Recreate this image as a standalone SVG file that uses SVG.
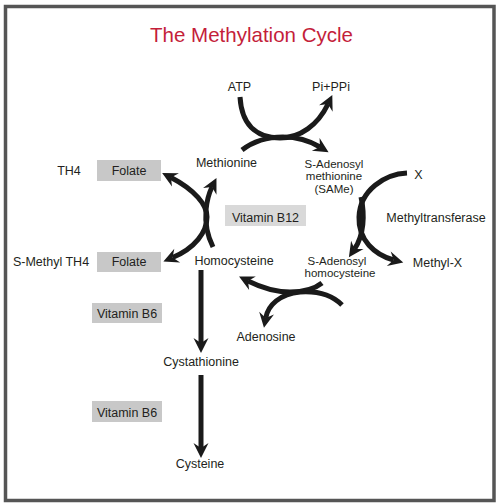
<svg xmlns="http://www.w3.org/2000/svg" width="500" height="503" viewBox="0 0 500 503">
<style>
.t{font-family:"Liberation Sans",Arial,sans-serif;font-size:12.5px;fill:#231f20;text-anchor:middle}
.m{font-size:11.5px}
.title{font-family:"Liberation Sans",Arial,sans-serif;font-size:21px;fill:#c41e3a;text-anchor:middle}
.box{fill:#c8c8c8}
.box2{fill:#d9d9d9}
.c{fill:none;stroke:#1a1a1a;stroke-width:5;marker-end:url(#ah)}
.both{marker-start:url(#ah)}
</style>
<defs>
<marker id="ah" viewBox="-16 -8 17 16" refX="-10" refY="0" markerWidth="17" markerHeight="16" markerUnits="userSpaceOnUse" orient="auto-start-reverse">
<path d="M0,0 L-15,-7.5 L-10,0 L-15,7.5 Z" fill="#1a1a1a"/>
</marker>
</defs>
<rect x="0" y="0" width="500" height="503" fill="#fff"/>
<rect x="5.5" y="6.5" width="488.5" height="494" fill="none" stroke="#555" stroke-width="3.5"/>
<text class="title" x="251.5" y="42" textLength="203" lengthAdjust="spacingAndGlyphs">The Methylation Cycle</text>

<g id="connectors">
<path class="c" d="M240,97 C242,130 262,138 280,138 C300,138 318,125 328,104"/>
<path class="c" d="M242,150 C255,140 270,137 283,137 C300,137 310,141 320,147"/>
<path class="c both" d="M171,177.5 C195,190 207,205 207,217 C207,232 195,248 172.6,257.5"/>
<path class="c" d="M213,247 C207,235 205,222 206,210 C207,200 209,193 212,187"/>
<path class="c" d="M407,173 C385,174 360,190 359,217 C358,240 375,255 393.6,260"/>
<path class="c" d="M361,197 C365,215 364,235 354.5,249"/>
<path class="c" d="M322,283 C312,291 300,292 290,292 C275,292 260,287 248,281"/>
<path class="c" d="M342,305 C330,293 315,291 300,292 C280,294 268,305 265.7,318"/>
<path class="c" d="M201,270 L201,343"/>
<path class="c" d="M201,375 L201,448"/>
</g>

<g id="atp"><text class="t" x="239.5" y="91">ATP</text></g>
<g id="pippi"><text class="t" x="331" y="91">Pi+PPi</text></g>
<g id="th4"><text class="t" x="69" y="175">TH4</text></g>
<g id="folate1"><rect class="box" x="97" y="160" width="64" height="21"/><text class="t" x="129" y="175">Folate</text></g>
<g id="methionine"><text class="t" x="226.5" y="167">Methionine</text></g>
<g id="same"><text class="t m" x="334" y="167.5">S-Adenosyl</text><text class="t m" x="334" y="180">methionine</text><text class="t m" x="334" y="192.5">(SAMe)</text></g>
<g id="x"><text class="t" x="418.5" y="179">X</text></g>
<g id="b12"><rect class="box2" x="225" y="205" width="81" height="21"/><text class="t" x="265.5" y="222">Vitamin B12</text></g>
<g id="mtase"><text class="t" x="436" y="222">Methyltransferase</text></g>
<g id="smethylth4"><text class="t" x="51" y="266">S-Methyl TH4</text></g>
<g id="folate2"><rect class="box" x="97" y="252" width="64" height="20"/><text class="t" x="129" y="266">Folate</text></g>
<g id="homocysteine"><text class="t" x="234" y="265">Homocysteine</text></g>
<g id="sah"><text class="t m" x="337" y="264.5">S-Adenosyl</text><text class="t m" x="340" y="277">homocysteine</text></g>
<g id="methylx"><text class="t" x="437.5" y="267">Methyl-X</text></g>
<g id="b6a"><rect class="box" x="92" y="303" width="70" height="20"/><text class="t" x="127" y="318">Vitamin B6</text></g>
<g id="adenosine"><text class="t" x="266" y="341">Adenosine</text></g>
<g id="cystathionine"><text class="t" x="201" y="366">Cystathionine</text></g>
<g id="b6b"><rect class="box" x="92" y="401" width="70" height="21"/><text class="t" x="127" y="417">Vitamin B6</text></g>
<g id="cysteine"><text class="t" x="200" y="468">Cysteine</text></g>
</svg>
